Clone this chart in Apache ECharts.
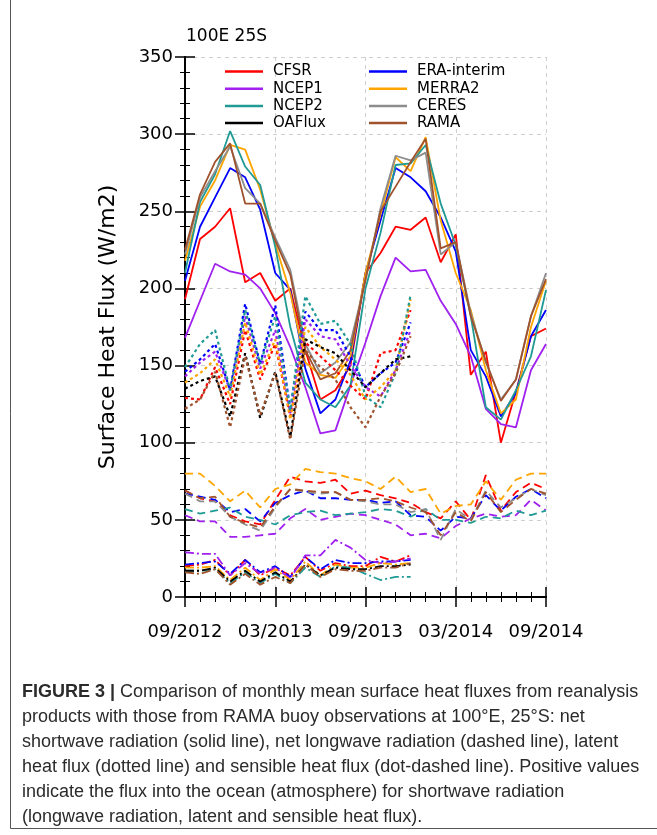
<!DOCTYPE html>
<html>
<head>
<meta charset="utf-8">
<script src="https://cdn.jsdelivr.net/npm/echarts@6/dist/echarts.min.js"></script>
<style>
html,body{margin:0;padding:0;background:#fff;}
#c{width:657px;height:835px;}
</style>
</head>
<body>
<div id="c"></div>
<script>
// Months (x categories), 09/2012 .. 09/2014
const months = ['09/2012','10/2012','11/2012','12/2012','01/2013','02/2013','03/2013','04/2013','05/2013','06/2013','07/2013','08/2013','09/2013','10/2013','11/2013','12/2013','01/2014','02/2014','03/2014','04/2014','05/2014','06/2014','07/2014','08/2014','09/2014'];
const tickLabels = ['09/2012','03/2013','09/2013','03/2014','09/2014'];
const products = ['CFSR','ERA-interim','NCEP1','MERRA2','NCEP2','CERES','OAFlux','RAMA'];

// Net shortwave (solid)
const swCFSR  = [193,232,240,252,204,210,192,200,160,128,134,150,210,223,240,238,246,217,235,144,159,100,133,169,174];
const swERA   = [205,240,259,278,272,251,210,199,148,119,128,153,210,244,278,272,263,246,224,160,143,117,132,169,186];
const swNCEP1 = [168,192,216,211,209,200,184,162,136,106,108,137,165,195,220,211,212,192,177,156,122,112,110,147,164];
const swMERRA2= [218,253,270,293,290,264,229,197,152,144,142,156,210,248,285,276,298,244,210,186,147,119,128,175,205];
const swNCEP2 = [210,256,274,302,279,267,227,175,139,128,123,137,200,236,280,281,293,255,228,182,123,115,134,156,199];
const swCERES = [222,259,276,292,265,255,233,212,164,145,152,165,205,252,286,283,288,222,230,184,152,128,141,182,210];
const swRAMA  = [225,261,282,294,255,255,231,209,160,141,145,160,206,250,266,282,297,226,230,182,153,127,141,182,206];

// Net longwave (dashed)
const lwCFSR  = [69,64,62,53,49,47,63,78,75,74,76,67,69,66,64,61,55,51,62,50,79,56,68,74,70];
const lwERA   = [67,65,63,55,57,49,61,66,69,64,64,63,63,61,62,53,52,43,52,51,66,56,65,70,64];
const lwNCEP1 = [53,49,49,39,39,40,41,51,57,50,52,54,53,50,47,40,41,38,46,51,54,52,53,63,56];
const lwMERRA2= [80,80,72,62,69,58,70,73,83,81,80,77,75,70,78,68,70,54,59,60,75,63,76,80,80];
const lwNCEP2 = [57,54,56,58,52,50,47,53,55,56,53,54,55,57,56,52,57,50,50,48,52,51,56,53,56];
const lwCERES = [67,62,62,52,47,43,58,70,68,67,68,63,62,60,60,55,57,37,57,50,69,58,64,70,66];
const lwRAMA  = [69,64,65,52,48,45,59,70,69,68,68,63,63,64,62,58,55,40,55,49,68,55,63,70,67];

// Latent heat flux (dotted), 09/2012 .. 12/2013
const lhCFSR  = [129,128,149,125,173,141,164,117,165,156,147,137,128,158,160,186];
const lhERA   = [146,154,164,134,190,151,189,121,185,173,173,156,136,145,152,178];
const lhNCEP1 = [143,152,159,134,182,148,173,119,180,169,167,150,136,130,147,173];
const lhMERRA2= [139,145,154,130,178,144,167,115,175,162,154,144,128,136,147,193];
const lhNCEP2 = [149,164,173,134,186,151,182,121,195,177,179,164,130,123,145,196];
const lhOAFlux= [135,140,143,117,158,116,146,104,167,162,158,147,136,145,154,156];
const lhRAMA  = [122,128,146,110,156,118,145,102,160,149,141,123,110,130,145,169];

// Sensible heat flux (dot-dashed), 09/2012 .. 12/2013
const shCFSR  = [20,21,24,14,24,14,19,14,26,17,22,20,20,26,23,27];
const shERA   = [21,22,23,15,24,16,20,13,26,18,24,22,22,23,23,24];
const shNCEP1 = [29,28,28,14,22,15,19,12,27,27,37,32,24,22,23,25];
const shMERRA2= [19,19,20,11,19,11,18,11,23,14,21,19,19,22,21,22];
const shNCEP2 = [17,17,18,9,16,9,15,9,19,13,20,19,15,11,13,13];
const shOAFlux= [17,17,19,10,17,10,16,10,21,14,19,18,18,20,20,21];
const shRAMA  = [16,15,18,8,15,8,13,9,21,13,18,17,17,19,19,22];

const colors = {
  'CFSR':'#ff0000','ERA-interim':'#0000ff','NCEP1':'#a020f0','MERRA2':'#ffa500',
  'NCEP2':'#1f9a94','CERES':'#8c8c8c','OAFlux':'#000000','RAMA':'#a0522d'
};

const SOLID='solid', DASH=[8,5], DOT=[3,3], DASHDOT=[9,3,2,3];
function mk(name, prod, arr, type, width){
  return {
    type:'line', name:name, symbol:'none', silent:true,
    data: arr.map((v,i)=>[i,v]),
    lineStyle:{color:colors[prod], width:width, type:type},
    itemStyle:{color:colors[prod]},
    emphasis:{disabled:true}
  };
}
const series = [
  mk('CFSR','CFSR',swCFSR,SOLID,1.8),
  mk('ERA-interim','ERA-interim',swERA,SOLID,1.8),
  mk('NCEP1','NCEP1',swNCEP1,SOLID,1.8),
  mk('MERRA2','MERRA2',swMERRA2,SOLID,1.8),
  mk('NCEP2','NCEP2',swNCEP2,SOLID,1.8),
  mk('CERES','CERES',swCERES,SOLID,1.8),
  mk('RAMA','RAMA',swRAMA,SOLID,1.8),
  mk('CFSR LW','CFSR',lwCFSR,DASH,1.8),
  mk('ERA LW','ERA-interim',lwERA,DASH,1.8),
  mk('NCEP1 LW','NCEP1',lwNCEP1,DASH,1.8),
  mk('MERRA2 LW','MERRA2',lwMERRA2,DASH,1.8),
  mk('NCEP2 LW','NCEP2',lwNCEP2,DASH,1.8),
  mk('CERES LW','CERES',lwCERES,DASH,1.8),
  mk('RAMA LW','RAMA',lwRAMA,DASH,1.8),
  mk('CFSR LH','CFSR',lhCFSR,DOT,2.2),
  mk('ERA LH','ERA-interim',lhERA,DOT,2.2),
  mk('NCEP1 LH','NCEP1',lhNCEP1,DOT,2.2),
  mk('MERRA2 LH','MERRA2',lhMERRA2,DOT,2.2),
  mk('NCEP2 LH','NCEP2',lhNCEP2,DOT,2.2),
  mk('OAFlux','OAFlux',lhOAFlux,DOT,2.2),
  mk('RAMA LH','RAMA',lhRAMA,DOT,2.2),
  mk('CFSR SH','CFSR',shCFSR,DASHDOT,1.8),
  mk('ERA SH','ERA-interim',shERA,DASHDOT,1.8),
  mk('NCEP1 SH','NCEP1',shNCEP1,DASHDOT,1.8),
  mk('MERRA2 SH','MERRA2',shMERRA2,DASHDOT,1.8),
  mk('NCEP2 SH','NCEP2',shNCEP2,DASHDOT,1.8),
  mk('OAFlux SH','OAFlux',shOAFlux,DASHDOT,1.8),
  mk('RAMA SH','RAMA',shRAMA,DASHDOT,1.8)
];

const FONT = 'DejaVu Sans';
const axisLineS = {show:true, lineStyle:{color:'#000', width:1.8}};
const legendBase = {
  orient:'vertical', top:59, itemWidth:38, itemHeight:14, itemGap:2.2,
  selectedMode:false, icon:'path://M0 0 L40 0 L40 2.6 L0 2.6 Z',
  textStyle:{fontFamily:FONT, fontSize:15, lineHeight:14, color:'#000', padding:[0,0,0,5]}
};

const chart = echarts.init(document.getElementById('c'), null, {renderer:'canvas'});
chart.setOption({
  animation:false,
  backgroundColor:'#fff',
  title:{text:'100E 25S', left:181, top:23, textStyle:{fontFamily:FONT, fontSize:17, fontWeight:'normal', color:'#000'}},
  grid:{left:185, right:111, top:57, bottom:238},
  legend:[
    Object.assign({}, legendBase, {left:220, data:['CFSR','NCEP1','NCEP2','OAFlux']}),
    Object.assign({}, legendBase, {left:364, data:['ERA-interim','MERRA2','CERES','RAMA']})
  ],
  xAxis:[
    {type:'value', min:0, max:months.length-1, interval:6, position:'bottom',
     axisLine:axisLineS,
     axisTick:{show:true, length:10, lineStyle:{color:'#000', width:1.5}},
     minorTick:{show:true, splitNumber:6, length:5, lineStyle:{color:'#000', width:1}},
     splitLine:{show:true, lineStyle:{color:'#cfcfcf', type:[4,4], width:1}},
     axisLabel:{margin:26, fontFamily:FONT, fontSize:18, color:'#000',
       formatter:v=>tickLabels[Math.round(v/6)]}},
    {type:'value', min:0, max:months.length-1, interval:6, position:'top',
     axisLine:axisLineS,
     axisTick:{show:true, length:10, lineStyle:{color:'#000', width:1.5}},
     minorTick:{show:true, splitNumber:6, length:5, lineStyle:{color:'#000', width:1}},
     splitLine:{show:false}, axisLabel:{show:false}}
  ],
  yAxis:[
    {type:'value', min:0, max:350, interval:50, position:'left',
     axisLine:axisLineS,
     axisTick:{show:true, length:10, lineStyle:{color:'#000', width:1.5}},
     minorTick:{show:true, splitNumber:5, length:5, lineStyle:{color:'#000', width:1}},
     splitLine:{show:true, lineStyle:{color:'#cfcfcf', type:[4,4], width:1}},
     axisLabel:{margin:12, fontFamily:FONT, fontSize:18, color:'#000'},
     name:'Surface Heat Flux (W/m2)', nameLocation:'middle', nameGap:66,
     nameTextStyle:{fontFamily:FONT, fontSize:22, color:'#000'}},
    {type:'value', min:0, max:350, interval:50, position:'right',
     axisLine:axisLineS,
     axisTick:{show:true, length:10, lineStyle:{color:'#000', width:1.5}},
     minorTick:{show:true, splitNumber:5, length:5, lineStyle:{color:'#000', width:1}},
     splitLine:{show:false}, axisLabel:{show:false}}
  ],
  series: series,
  graphic:[
    {type:'rect', left:8, top:-4, shape:{width:700, height:830}, style:{fill:'none', stroke:'#555', lineWidth:1}, silent:true},
    {type:'text', left:22, top:680, style:{
      text:'{b|FIGURE 3 |} Comparison of monthly mean surface heat fluxes from reanalysis\nproducts with those from RAMA buoy observations at 100°E, 25°S: net\nshortwave radiation (solid line), net longwave radiation (dashed line), latent\nheat flux (dotted line) and sensible heat flux (dot-dashed line). Positive values\nindicate the flux into the ocean (atmosphere) for shortwave radiation\n(longwave radiation, latent and sensible heat flux).',
      font:'18px "Liberation Sans", sans-serif', fill:'#2b2b2b', lineHeight:25,
      rich:{b:{font:'bold 18px "Liberation Sans", sans-serif', fill:'#2b2b2b', lineHeight:25}}
    }}
  ]
});
</script>
</body>
</html>
